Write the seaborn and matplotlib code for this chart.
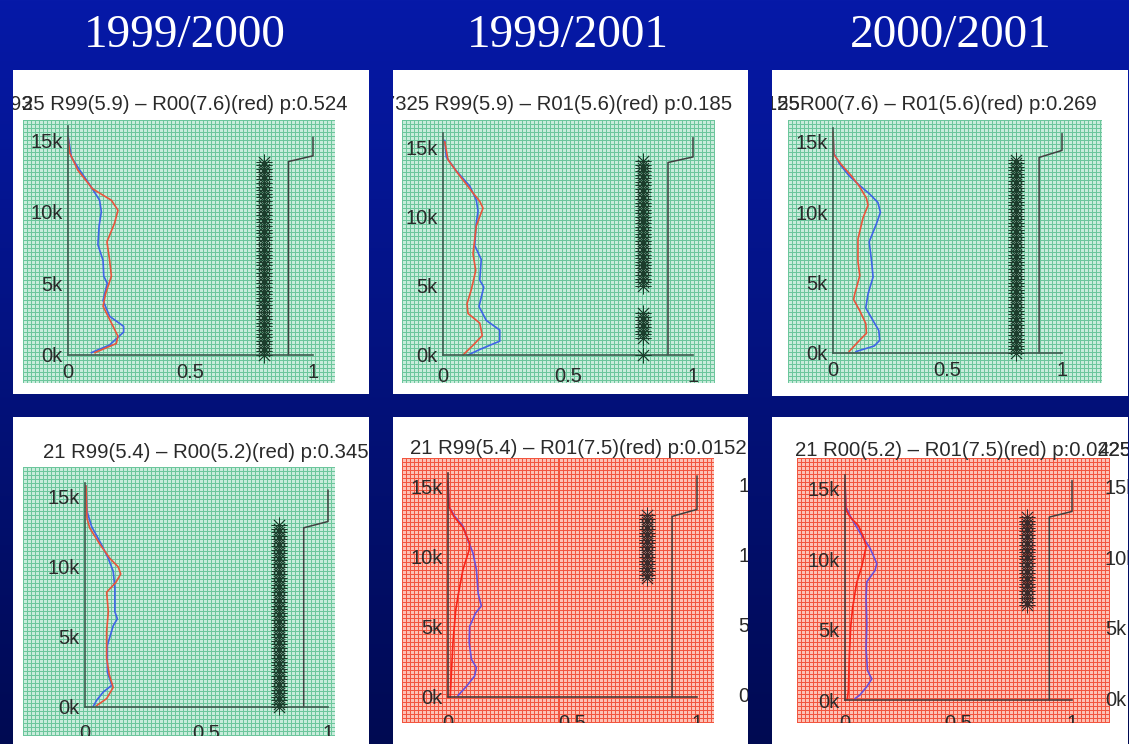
import numpy as np
import matplotlib
matplotlib.use("Agg")
import matplotlib.pyplot as plt
from matplotlib.patches import Rectangle
import seaborn as sns

# ---------------------------------------------------------------- data ----
column_titles = ["1999/2000", "1999/2001", "2000/2001"]

panel_titles = [
    "25 R99(5.9) \u2013 R00(7.6)(red) p:0.524",
    "0.7325 R99(5.9) \u2013 R01(5.6)(red) p:0.185",
    "R00(7.6) \u2013 R01(5.6)(red) p:0.269",
    "21 R99(5.4) \u2013 R00(5.2)(red) p:0.345",
    "21 R99(5.4) \u2013 R01(7.5)(red) p:0.0152",
    "21 R00(5.2) \u2013 R01(7.5)(red) p:0.0225",
]

y_ticks = [0, 5, 10, 15]
y_tick_labels = ["0k", "5k", "10k", "15k"]
x_ticks = [0, 0.5, 1]
x_tick_labels = ["0", "0.5", "1"]

# profile altitude in thousands, blue = first period, red = second period
p1_blue_x = [0.0, 0.014, 0.048, 0.088, 0.129, 0.136, 0.127, 0.122, 0.143, 0.146, 0.16, 0.143, 0.17, 0.227, 0.227, 0.17, 0.095]
p1_blue_y = [15.3, 13.8, 12.9, 11.9, 10.8, 10.0, 9.0, 7.7, 6.6, 5.5, 5.0, 3.8, 2.7, 2.0, 1.6, 0.7, 0.16]
p1_red_x = [0.0, 0.007, 0.04, 0.10, 0.177, 0.204, 0.19, 0.159, 0.17, 0.177, 0.154, 0.143, 0.184, 0.204, 0.197, 0.109]
p1_red_y = [15.2, 14.1, 12.9, 11.6, 10.8, 10.1, 9.2, 7.9, 6.6, 5.5, 4.3, 3.4, 2.0, 1.3, 0.8, 0.16]

p2_blue_x = [0.007, 0.013, 0.053, 0.107, 0.133, 0.14, 0.133, 0.127, 0.153, 0.147, 0.163, 0.144, 0.173, 0.227, 0.227, 0.147, 0.10]
p2_blue_y = [15.5, 14.3, 13.3, 12.2, 11.2, 10.4, 9.5, 7.9, 6.9, 5.4, 4.9, 3.5, 2.5, 1.8, 1.0, 0.4, 0.0]
p2_red_x = [0.007, 0.02, 0.06, 0.12, 0.147, 0.16, 0.147, 0.133, 0.12, 0.131, 0.113, 0.096, 0.10, 0.147, 0.157, 0.12, 0.08]
p2_red_y = [15.4, 14.1, 13.1, 11.7, 11.1, 10.6, 10.0, 9.3, 7.3, 6.1, 4.7, 3.7, 3.0, 2.3, 1.4, 0.7, 0.0]

p3_blue_x = [0.0, 0.004, 0.026, 0.07, 0.117, 0.16, 0.196, 0.207, 0.19, 0.158, 0.168, 0.175, 0.153, 0.143, 0.175, 0.2, 0.204, 0.18, 0.10]
p3_blue_y = [15.7, 14.2, 13.5, 12.6, 11.9, 11.3, 10.7, 10.0, 9.2, 7.9, 6.6, 5.4, 4.2, 3.2, 2.3, 1.6, 0.9, 0.5, 0.1]
p3_red_x = [0.0, 0.004, 0.036, 0.08, 0.117, 0.146, 0.153, 0.131, 0.109, 0.109, 0.117, 0.095, 0.09, 0.117, 0.143, 0.146, 0.11, 0.07]
p3_red_y = [15.7, 14.1, 13.4, 12.6, 11.8, 11.0, 10.5, 9.6, 8.1, 6.5, 5.5, 4.2, 3.8, 3.0, 2.1, 1.4, 0.8, 0.1]

p4_blue_x = [0.004, 0.008, 0.027, 0.068, 0.096, 0.116, 0.123, 0.123, 0.133, 0.116, 0.092, 0.092, 0.11, 0.075, 0.048, 0.034]
p4_blue_y = [15.8, 14.0, 12.9, 11.6, 10.6, 9.7, 8.5, 6.8, 6.3, 5.8, 4.4, 2.5, 1.55, 1.07, 0.48, 0.05]
p4_red_x = [0.004, 0.008, 0.019, 0.062, 0.103, 0.137, 0.147, 0.127, 0.089, 0.096, 0.089, 0.089, 0.10, 0.116, 0.089, 0.048]
p4_red_y = [15.8, 13.5, 12.8, 11.6, 10.6, 10.0, 9.5, 8.9, 8.2, 6.8, 5.4, 3.5, 2.3, 1.4, 0.6, 0.1]

p5_blue_x = [0.0, 0.004, 0.027, 0.06, 0.08, 0.10, 0.114, 0.121, 0.134, 0.111, 0.087, 0.085, 0.094, 0.114, 0.107, 0.074, 0.04]
p5_blue_y = [15.4, 13.6, 12.9, 12.2, 11.2, 10.3, 9.1, 7.4, 6.5, 6.0, 5.05, 3.9, 2.7, 2.1, 1.5, 0.76, 0.1]
p5_red_x = [0.0, 0.004, 0.023, 0.06, 0.087, 0.085, 0.06, 0.04, 0.031, 0.02, 0.013, 0.009]
p5_red_y = [15.4, 13.6, 12.9, 12.1, 11.0, 10.5, 9.1, 7.2, 6.2, 3.9, 1.5, 0.0]

p6_blue_x = [0.0, 0.004, 0.022, 0.051, 0.081, 0.11, 0.14, 0.132, 0.096, 0.093, 0.096, 0.093, 0.099, 0.118, 0.096, 0.066, 0.044]
p6_blue_y = [15.5, 13.7, 13.1, 12.3, 11.5, 10.8, 9.7, 9.2, 8.4, 7.3, 5.4, 3.6, 2.1, 1.5, 0.95, 0.36, 0.1]
p6_red_x = [0.0, 0.004, 0.022, 0.059, 0.081, 0.093, 0.074, 0.051, 0.034, 0.025, 0.019, 0.015, 0.01]
p6_red_y = [15.5, 13.5, 13.0, 12.4, 11.6, 10.9, 9.5, 8.3, 6.6, 5.2, 3.1, 0.7, 0.05]

# altitude spans (thousands) flagged as significantly different, marked at x = 0.8
star_x = 0.8
star_step = 0.25
p1_star_spans = [(0.0, 13.6)]
p2_star_spans = [(0.0, 0.0), (1.25, 3.0), (5.0, 14.0)]
p3_star_spans = [(0.0, 13.9)]
p4_star_spans = [(0.0, 13.0)]
p5_star_spans = [(8.5, 13.0)]
p6_star_spans = [(6.75, 13.0)]

# cumulative step curve on the right of each panel
p1_step_x, p1_step_y = [0.9, 0.9, 1.0, 1.0], [0.0, 13.5, 13.9, 15.2]
p2_step_x, p2_step_y = [0.9, 0.9, 1.0, 1.0], [0.0, 13.9, 14.3, 15.7]
p3_step_x, p3_step_y = [0.9, 0.9, 1.0, 1.0], [0.0, 13.9, 14.4, 15.6]
p4_step_x, p4_step_y = [0.9, 0.9, 1.0, 1.0], [0.0, 12.8, 13.25, 15.5]
p5_step_x, p5_step_y = [0.9, 0.9, 1.0, 1.0], [0.0, 12.9, 13.4, 15.8]
p6_step_x, p6_step_y = [0.9, 0.9, 1.0, 1.0], [0.0, 13.0, 13.4, 15.6]

panel_data = [
    (p1_blue_x, p1_blue_y, p1_red_x, p1_red_y, p1_star_spans, p1_step_x, p1_step_y),
    (p2_blue_x, p2_blue_y, p2_red_x, p2_red_y, p2_star_spans, p2_step_x, p2_step_y),
    (p3_blue_x, p3_blue_y, p3_red_x, p3_red_y, p3_star_spans, p3_step_x, p3_step_y),
    (p4_blue_x, p4_blue_y, p4_red_x, p4_red_y, p4_star_spans, p4_step_x, p4_step_y),
    (p5_blue_x, p5_blue_y, p5_red_x, p5_red_y, p5_star_spans, p5_step_x, p5_step_y),
    (p6_blue_x, p6_blue_y, p6_red_x, p6_red_y, p6_star_spans, p6_step_x, p6_step_y),
]
significant = [False, False, False, False, True, True]

# ------------------------------------------------------------- layout ----
W, H = 1129, 744
sns.set_style("white")
plt.rcParams["font.family"] = ["Liberation Sans", "DejaVu Sans"]

# card (x0, y0, x1, y1), texture (x0, y0, x1, y1),
# axis (x0, x1, y_zero, px_per_k, x label pad in pt)
geometry = [
    ((13, 70, 369, 394), (23, 120, 335, 383), (68, 313, 355, 14.33, 6)),
    ((393, 70, 748, 394), (402, 120, 715, 383), (443, 693, 355, 13.85, 9)),
    ((772, 70, 1128, 396), (788, 120, 1102, 383), (833, 1062, 353, 14.07, 5.5)),
    ((13, 417, 369, 744), (23, 467, 335, 736), (85, 328, 707, 14.0, 12)),
    ((393, 417, 748, 744), (402, 458, 713, 723), (448, 697, 697, 14.0, 12)),
    ((772, 417, 1128, 744), (797, 458, 1110, 723), (845, 1072, 700, 14.07, 10)),
]
title_pos = [(22, 105, "left"), (732, 105, "right"), (800, 105, "left"),
             (43, 453, "left"), (410, 448, "left"), (795, 450, "left")]
TITLE_FS = 14.7
TICK_FS = 14.5
TEXT_C = "#2a2a2a"


def frac(x0, y0, x1, y1):
    return [x0 / W, 1 - y1 / H, (x1 - x0) / W, (y1 - y0) / H]


def texture(h, w, line, cell):
    line = np.array(matplotlib.colors.to_rgb(line))
    cell = np.array(matplotlib.colors.to_rgb(cell))
    img = np.empty((h, w, 3))
    img[:] = cell
    img[::4, :] = line
    img[:, ::4] = line
    return img


fig = plt.figure(figsize=(W / 100, H / 100), dpi=100)
renderer = fig.canvas.get_renderer()


def text_width_px(s, size):
    tmp = fig.text(0, 0, s, fontsize=size)
    w = tmp.get_window_extent(renderer).width
    tmp.remove()
    return w


# slide background
bg = fig.add_axes([0, 0, 1, 1])
top_c = np.array(matplotlib.colors.to_rgb("#0619a8"))
bot_c = np.array(matplotlib.colors.to_rgb("#000a52"))
t = np.linspace(0, 1, H)[:, None, None]
bg.imshow(top_c * (1 - t) + bot_c * t, aspect="auto", extent=[0, 1, 0, 1])
bg.axis("off")

for i, name in enumerate(column_titles):
    fig.text((185 + 383 * i) / W, 1 - 47 / H, name, color="white", fontsize=34,
             family=["Liberation Serif", "DejaVu Serif"], ha="center", va="baseline")

for k, ((card, tex, axg), data) in enumerate(zip(geometry, panel_data)):
    blue_x, blue_y, red_x, red_y, spans, step_x, step_y = data
    red_panel = significant[k]

    cax = fig.add_axes(frac(*card))
    cax.set_facecolor("white")
    cax.set_xticks([]); cax.set_yticks([])
    for s in cax.spines.values():
        s.set_visible(False)

    tx0, ty0, tx1, ty1 = tex
    tax = fig.add_axes(frac(*tex))
    if red_panel:
        img = texture(ty1 - ty0, tx1 - tx0, "#f2553f", "#fcc2b6")
    else:
        img = texture(ty1 - ty0, tx1 - tx0, "#6cc69c", "#c8ecdb")
    tax.imshow(img, interpolation="nearest", aspect="auto")
    tax.axis("off")

    ax0, ax1, yz, perk, xpad = axg
    ax = fig.add_axes(frac(ax0, yz - 16 * perk, ax1, yz))
    ax.patch.set_alpha(0)
    ax.set_xlim(0, 1)
    ax.set_ylim(0, 16)

    spine_c = "#4a3a3a" if red_panel else "#3e5a4e"
    blue_c = "#6a50dc" if red_panel else "#3f64e6"
    red_c = "#f8261a" if red_panel else "#e8553c"
    star_c = "#3a2a2a" if red_panel else "#1c3d2c"

    sns.lineplot(x=blue_x, y=blue_y, orient="y", estimator=None, color=blue_c,
                 lw=1.2, ax=ax, clip_on=False)
    sns.lineplot(x=red_x, y=red_y, orient="y", estimator=None, color=red_c,
                 lw=1.2, ax=ax, clip_on=False)

    star_y = np.concatenate([np.arange(a, b + 1e-9, star_step) for a, b in spans])
    sns.scatterplot(x=np.full(star_y.size, star_x), y=star_y, marker=(8, 2, 0),
                    s=120, color=star_c, linewidth=0.6, ax=ax, clip_on=False,
                    zorder=3)
    sns.lineplot(x=step_x, y=step_y, sort=False, estimator=None, color="#404040",
                 lw=1.1, ax=ax, clip_on=False)

    for side in ("top", "right"):
        ax.spines[side].set_visible(False)
    for side in ("left", "bottom"):
        ax.spines[side].set_color(spine_c)
        ax.spines[side].set_linewidth(1.2)
    ax.set_xticks(x_ticks, x_tick_labels)
    ax.set_yticks(y_ticks, y_tick_labels)
    ax.tick_params(axis="both", direction="in", length=3, width=0.8,
                   color=spine_c, labelcolor=TEXT_C, labelsize=TICK_FS)
    ax.tick_params(axis="x", pad=xpad)
    ax.tick_params(axis="y", pad=4)
    ax.set_xlabel("")
    ax.set_ylabel("")

    # overlay for panel title and cropping of the embedded plot
    cx0, cy0, cx1, cy1 = card
    oax = fig.add_axes(frac(*card))
    oax.patch.set_alpha(0)
    oax.set_xlim(cx0, cx1)
    oax.set_ylim(cy1, cy0)
    oax.set_xticks([]); oax.set_yticks([])
    for s in oax.spines.values():
        s.set_visible(False)
    if ty1 < cy1:
        oax.add_patch(Rectangle((cx0, ty1), cx1 - cx0, cy1 - ty1,
                                facecolor="white", edgecolor="none"))

    tx, ty, ha = title_pos[k]
    oax.text(tx, ty, panel_titles[k], ha=ha, va="center", fontsize=TITLE_FS,
             color=TEXT_C, clip_on=True)
    if k == 0:
        # a second run number printed over the first one
        end = tx + text_width_px("2", TITLE_FS)
        oax.text(end, ty, "0.93", ha="right", va="center", fontsize=TITLE_FS,
                 color=TEXT_C, clip_on=True)
    if k == 2:
        for lead in ("0.125", "0.155"):
            oax.text(tx, ty, lead, ha="right", va="center", fontsize=TITLE_FS,
                     color=TEXT_C, clip_on=True)
    if k == 5:
        start = tx + text_width_px("21 R00(5.2) \u2013 R01(7.5)(red) p:0.0", TITLE_FS)
        oax.text(start, ty, "425F", ha="left", va="center", fontsize=TITLE_FS,
                 color=TEXT_C, clip_on=True)
    if k in (4, 5):
        lx = 738 if k == 4 else 1105
        for val, lab in zip(y_ticks, y_tick_labels):
            oax.text(lx, yz - val * perk, lab, ha="left", va="center",
                     fontsize=TICK_FS, color=TEXT_C, clip_on=True)

fig.savefig("out.png", dpi=100)
